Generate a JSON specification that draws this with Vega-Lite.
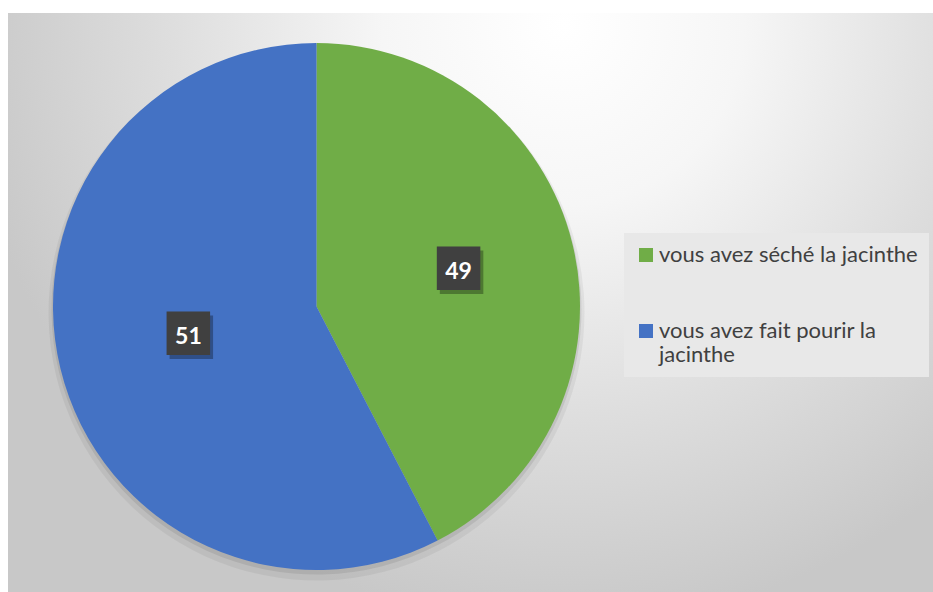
{
  "$schema": "https://vega.github.io/schema/vega-lite/v6.json",
  "width": 925,
  "height": 579,
  "autosize": {"type": "none"},
  "padding": {"left": 8, "top": 13, "right": 0, "bottom": 0},
  "background": "#ffffff",
  "config": {"view": {"stroke": null}},
  "data": {
    "values": [
      {"categorie": "vous avez séché la jacinthe", "part": 42.4, "etiquette": 49},
      {"categorie": "vous avez fait pourir la jacinthe", "part": 57.6, "etiquette": 51}
    ]
  },
  "layer": [
    {
      "data": {"values": [{"fond": "zone du graphique"}]},
      "mark": {
        "type": "rect",
        "fill": {
          "gradient": "radial",
          "x1": 0.6, "y1": 0.2, "r1": 0,
          "x2": 0.6, "y2": 0.2, "r2": 0.65,
          "stops": [
            {"offset": 0, "color": "#ffffff"},
            {"offset": 0.3, "color": "#f6f6f6"},
            {"offset": 0.65, "color": "#dedede"},
            {"offset": 1, "color": "#c8c8c8"}
          ]
        }
      },
      "encoding": {}
    },
    {
      "mark": {"type": "arc", "outerRadius": 268, "xOffset": -154, "yOffset": 10, "color": "#000000", "opacity": 0.05},
      "encoding": {
        "theta": {"field": "part", "type": "quantitative", "stack": true},
        "order": {"field": "etiquette", "type": "quantitative", "sort": "ascending"}
      }
    },
    {
      "mark": {"type": "arc", "outerRadius": 265, "xOffset": -154, "yOffset": 7, "color": "#000000", "opacity": 0.08},
      "encoding": {
        "theta": {"field": "part", "type": "quantitative", "stack": true},
        "order": {"field": "etiquette", "type": "quantitative", "sort": "ascending"}
      }
    },
    {
      "mark": {"type": "arc", "outerRadius": 263.5, "xOffset": -154, "yOffset": 4},
      "encoding": {
        "theta": {"field": "part", "type": "quantitative", "stack": true},
        "order": {"field": "etiquette", "type": "quantitative", "sort": "ascending"},
        "color": {
          "field": "categorie",
          "type": "nominal",
          "scale": {
            "domain": ["vous avez séché la jacinthe", "vous avez fait pourir la jacinthe"],
            "range": ["#70ad47", "#4472c4"]
          },
          "legend": {
            "orient": "none",
            "legendX": 616,
            "legendY": 220,
            "title": null,
            "symbolType": "square",
            "symbolSize": 196,
            "symbolStrokeWidth": 0,
            "symbolOpacity": 1,
            "labelFont": "Lato",
            "labelFontSize": 22,
            "labelColor": "#404040",
            "labelOffset": 2,
            "labelLimit": 400,
            "fillColor": "#e8e8e8",
            "padding": 11,
            "rowPadding": 54,
            "labelExpr": "datum.label == 'vous avez fait pourir la jacinthe' ? ['vous avez fait pourir la', 'jacinthe'] : datum.label"
          }
        }
      }
    },
    {
      "mark": {"type": "text", "radius": 139, "xOffset": -144, "yOffset": 0, "font": "DejaVu Sans", "fontSize": 57, "baseline": "middle", "align": "center", "color": "#000000", "opacity": 0.3},
      "encoding": {
        "theta": {"field": "part", "type": "quantitative", "stack": true},
        "order": {"field": "etiquette", "type": "quantitative", "sort": "ascending"},
        "text": {"value": "■"}
      }
    },
    {
      "mark": {"type": "text", "radius": 139, "xOffset": -147, "yOffset": -4, "font": "DejaVu Sans", "fontSize": 57, "baseline": "middle", "align": "center", "color": "#404040"},
      "encoding": {
        "theta": {"field": "part", "type": "quantitative", "stack": true},
        "order": {"field": "etiquette", "type": "quantitative", "sort": "ascending"},
        "text": {"value": "■"}
      }
    },
    {
      "mark": {"type": "text", "radius": 139, "xOffset": -147, "yOffset": 2, "font": "Lato", "fontWeight": "bold", "fontSize": 23, "baseline": "middle", "align": "center", "color": "#ffffff"},
      "encoding": {
        "theta": {"field": "part", "type": "quantitative", "stack": true},
        "order": {"field": "etiquette", "type": "quantitative", "sort": "ascending"},
        "text": {"field": "etiquette", "type": "quantitative"}
      }
    }
  ]
}
